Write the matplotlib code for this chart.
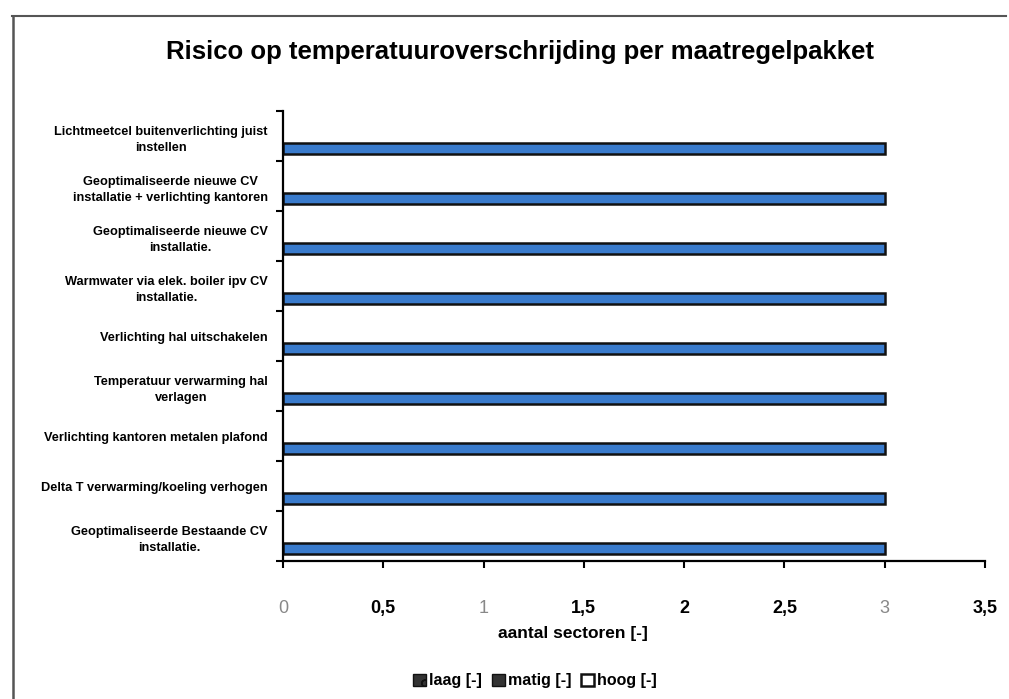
import matplotlib
matplotlib.use("Agg")
import matplotlib.pyplot as plt
from matplotlib.patches import Patch
from matplotlib.lines import Line2D
import numpy as np

plt.rcParams['font.family'] = ['Liberation Sans', 'DejaVu Sans']

# Categories listed from bottom to top of the chart
categories = [
    "Geoptimaliseerde Bestaande CV\ninstallatie.",
    "Delta T verwarming/koeling verhogen",
    "Verlichting kantoren metalen plafond",
    "Temperatuur verwarming hal\nverlagen",
    "Verlichting hal uitschakelen",
    "Warmwater via elek. boiler ipv CV\ninstallatie.",
    "Geoptimaliseerde nieuwe CV\ninstallatie.",
    "Geoptimaliseerde nieuwe CV\ninstallatie + verlichting kantoren",
    "Lichtmeetcel buitenverlichting juist\ninstellen",
]
laag = [3, 3, 3, 3, 3, 3, 3, 3, 3]
matig = [0, 0, 0, 0, 0, 0, 0, 0, 0]
hoog = [0, 0, 0, 0, 0, 0, 0, 0, 0]

series_names = ["laag [-]", "matig [-]", "hoog [-]"]
x_ticks = [0, 0.5, 1, 1.5, 2, 2.5, 3, 3.5]
x_ticklabels = ["0", "0,5", "1", "1,5", "2", "2,5", "3", "3,5"]

W, H = 1009, 699
fig = plt.figure(figsize=(W / 100, H / 100), dpi=100)
fig.patch.set_facecolor("white")

ax = fig.add_axes([283 / W, 1 - 561 / H, 702 / W, 450 / H])

n = len(categories)
centers = np.arange(n) + 0.5
bh = 0.21
ax.barh(centers - 0.25, laag, height=bh, color="#3a7bcc", edgecolor="#111111", linewidth=1.8)
ax.barh(centers, matig, height=bh, color="#333333", edgecolor="#111111", linewidth=0)
ax.barh(centers + 0.25, hoog, height=bh, color="white", edgecolor="#111111", linewidth=0)

ax.set_xlim(0, 3.5)
ax.set_ylim(0, n)
for s in ["top", "right"]:
    ax.spines[s].set_visible(False)
ax.spines["left"].set_linewidth(1.6)
ax.spines["bottom"].set_linewidth(1.6)

ax.set_yticks(centers)
ax.set_yticklabels(categories, fontsize=9.2, fontweight="bold", ha="right",
                   multialignment="center", linespacing=1.55)
ax.tick_params(axis="y", which="major", length=0, pad=11)
ax.set_yticks(np.arange(n + 1), minor=True)
ax.tick_params(axis="y", which="minor", length=5, width=1.5, direction="out")

ax.set_xticks(x_ticks)
ax.set_xticklabels(x_ticklabels, fontsize=13, fontweight="bold")
ax.tick_params(axis="x", length=5, width=1.5, direction="out", pad=23)
for lbl, v in zip(ax.get_xticklabels(), x_ticks):
    if v in (0, 1, 3):
        lbl.set_color("#888888")
        lbl.set_fontweight("normal")

ax.set_xlabel("aantal sectoren [-]", fontsize=12.5, fontweight="bold")
ax.xaxis.set_label_coords(0.413, -0.145)

fig.text(0.515, 1 - 52 / H, "Risico op temperatuuroverschrijding per maatregelpakket",
         ha="center", va="center", fontsize=18.5, fontweight="bold")

handles = [
    Patch(facecolor="#333333", edgecolor="#111111", hatch="o"),
    Patch(facecolor="#333333", edgecolor="#111111"),
    Patch(facecolor="white", edgecolor="#111111", linewidth=1.8),
]
leg = fig.legend(handles, series_names, loc="center", bbox_to_anchor=(535 / W, 1 - 681 / H),
                 ncol=3, frameon=False, handlelength=0.8, handleheight=0.8,
                 handletextpad=0.2, columnspacing=0.6,
                 prop={"weight": "bold", "size": 11.5})

# Outer chart frame (top and left edges)
fig.add_artist(Line2D([12 / W, 1006 / W], [1 - 16 / H, 1 - 16 / H], color="#555555", lw=1.5))
fig.add_artist(Line2D([13 / W, 13 / W], [1 - 16 / H, 0], color="#555555", lw=1.8))

fig.savefig("out.png", dpi=100)
